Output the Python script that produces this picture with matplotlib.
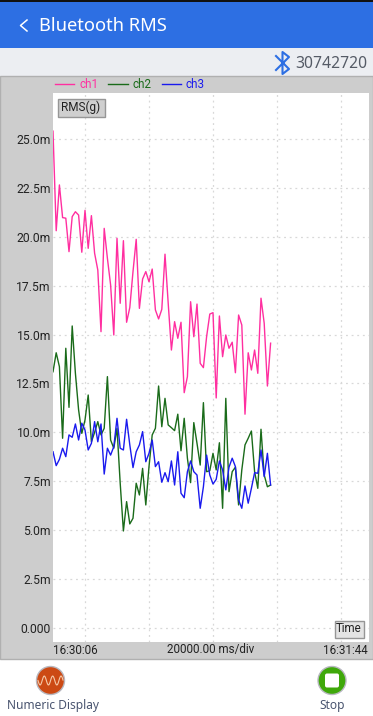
import numpy as np
import matplotlib
matplotlib.use('Agg')
import matplotlib.pyplot as plt
from matplotlib.patches import Rectangle, Circle, FancyBboxPatch

# rms values in milli g, one sample per second
ch1 = [25.40, 20.31, 22.65, 20.98, 20.95, 19.24, 21.03, 21.28, 21.11, 19.21,
       21.35, 19.41, 21.08, 19.16, 18.30, 15.15, 20.43, 18.90, 17.54, 14.98,
       19.92, 16.60, 19.80, 15.63, 16.38, 18.22, 19.87, 16.34, 17.84, 18.22,
       17.70, 18.35, 16.26, 15.80, 16.29, 19.11, 16.60, 14.21, 15.66, 14.81,
       15.63, 12.03, 12.85, 16.68, 14.89, 16.56, 13.53, 13.31, 14.89, 16.05,
       16.12, 11.76, 15.95, 13.87, 14.98, 14.30, 14.61, 13.05, 16.00, 15.49,
       10.93, 14.07, 13.19, 14.21, 13.02, 16.86, 15.58, 12.37, 14.56]
ch2 = [13.10, 14.07, 13.36, 9.70, 14.30, 11.28, 15.44, 13.02, 11.15, 9.95,
       10.63, 11.91, 9.52, 10.00, 10.55, 9.87, 10.21, 12.85, 9.61, 9.19,
       10.21, 7.40, 4.96, 6.46, 5.32, 5.61, 7.40, 6.80, 8.16, 6.29,
       8.25, 9.87, 10.21, 12.37, 10.29, 11.74, 10.38, 10.24, 10.09, 10.93,
       9.06, 10.72, 8.68, 7.43, 10.50, 9.44, 8.33, 11.52, 7.99, 8.04,
       8.93, 8.08, 9.47, 6.12, 11.74, 6.97, 7.99, 8.22, 6.29, 8.08,
       9.36, 9.70, 10.07, 7.99, 7.14, 10.16, 7.82, 7.22, 7.31]
ch3 = [9.01, 8.30, 8.62, 9.19, 8.76, 9.87, 9.75, 10.43, 9.61, 10.47,
       10.12, 9.10, 9.44, 10.55, 9.52, 10.43, 7.87, 9.19, 8.84, 9.27,
       10.72, 9.19, 9.10, 10.67, 9.36, 8.20, 9.01, 9.36, 10.04, 8.50,
       8.93, 9.61, 8.25, 8.50, 7.45, 7.94, 7.48, 8.54, 7.31, 9.01,
       6.89, 6.66, 7.99, 8.54, 7.99, 7.82, 6.12, 7.22, 8.84, 7.82,
       7.36, 7.60, 8.54, 8.08, 7.06, 8.22, 8.68, 8.25, 6.54, 6.12,
       7.26, 6.38, 7.14, 7.94, 7.91, 9.10, 7.74, 8.93, 7.31]
channels = ['ch1', 'ch2', 'ch3']
colors = ['#ff2fa0', '#1a6b1a', '#1a1aee']
yticks = [0, 2.5, 5, 7.5, 10, 12.5, 15, 17.5, 20, 22.5, 25]
ylabels = ['0.000', '2.5m', '5.0m', '7.5m', '10.0m', '12.5m', '15.0m', '17.5m', '20.0m', '22.5m', '25.0m']
xgrid = [10, 30, 50, 70, 90]

W, H = 373, 716
plt.rcParams['font.family'] = 'Roboto'
fig = plt.figure(figsize=(W / 100, H / 100), dpi=100, facecolor='white')

# screen chrome, drawn in pixel coordinates
ui = fig.add_axes([0, 0, 1, 1], zorder=0)
ui.set_xlim(0, W)
ui.set_ylim(H, 0)
ui.axis('off')
ui.add_patch(Rectangle((0, 0), W, 48, fc='#2d6fe3', ec='none'))
ui.add_patch(Rectangle((0, 0), W, 2, fc='#111111', ec='none'))
ui.add_patch(Rectangle((0, 48), W, 28, fc='#eceef2', ec='none'))
ui.add_patch(Rectangle((0, 76), W, 583, fc='#cdcdcd', ec='#b0b0b0', lw=1))
ui.plot([27, 20.5, 27], [20, 25.5, 31], c='white', lw=1.1)
ui.text(39, 26, 'Bluetooth RMS', color='white', fontsize=13.2, family='Noto Sans', va='center', ha='left')
ui.plot([276, 289, 282.5, 282.5, 289, 276], [56, 69, 74, 52, 57, 70], c='#2d6fe3', lw=1.5)
ui.text(295, 64, '30742720', color='#555b66', fontsize=11.3, family='Noto Sans', va='center', ha='left')
ui.text(53, 650, '16:30:06', color='#222222', fontsize=8.4, va='center', ha='left')
ui.text(211, 650, '20000.00 ms/div', color='#222222', fontsize=8.4, va='center', ha='center')
ui.text(368, 650, '16:31:44', color='#222222', fontsize=8.4, va='center', ha='right')

# bottom buttons
ui.add_patch(Circle((50.5, 680.5), 14, fc='#cc4a14', ec='#b8b8c0', lw=1))
wave_x = np.linspace(38, 63, 60)
ui.plot(wave_x, 680.5 + 4.5 * np.sin((wave_x - 38) * 0.75), c='#f5c9a8', lw=0.8)
ui.text(53, 705, 'Numeric Display', color='#4a5570', fontsize=8.6, family='Noto Sans', va='center', ha='center')
ui.add_patch(Circle((332, 680.5), 14, fc='#3fa80a', ec='#b8b8c0', lw=1))
ui.add_patch(FancyBboxPatch((325, 673.5), 14, 14, boxstyle='round,pad=0,rounding_size=2', fc='white', ec='none'))
ui.text(332, 705, 'Stop', color='#4a5570', fontsize=8.6, family='Noto Sans', va='center', ha='center')

# plot area
ax = fig.add_axes([53 / W, 1 - 642 / H, 316 / W, 549 / H], zorder=1)
ax.set_facecolor('white')
t = np.arange(len(ch1))
for vals, name, col in zip([ch1, ch2, ch3], channels, colors):
    ax.plot(t, vals, color=col, lw=1.0, label=name)
ax.set_xlim(0, 98.75)
ax.set_ylim(-0.716, 27.35)
ax.set_xticks(xgrid)
ax.set_xticklabels([])
ax.set_yticks(yticks)
ax.set_yticklabels(ylabels, fontsize=8.7, color='#222222')
ax.tick_params(length=0, pad=1.5)
ax.grid(True, ls=(0, (1.5, 3)), color='#d8d8d8', lw=0.9)
ax.set_axisbelow(True)
for s in ax.spines.values():
    s.set_visible(False)

leg = ax.legend(loc='lower left', bbox_to_anchor=(0, 1), ncol=3, frameon=False, fontsize=8.4,
                labelcolor='linecolor', handlelength=1.65, handletextpad=0.43, columnspacing=0.87,
                borderpad=0, borderaxespad=0.15)
for h in leg.get_lines():
    h.set_linewidth(1.0)

# RMS(g) and Time buttons sit on top of the plot
top = fig.add_axes([0, 0, 1, 1], zorder=2)
top.set_xlim(0, W)
top.set_ylim(H, 0)
top.axis('off')
top.patch.set_alpha(0)
top.add_patch(Rectangle((57.5, 98.5), 47, 18, fc='#cfcfcf', ec='#969696', lw=1))
top.text(81, 107.5, 'RMS(g)', color='#222222', fontsize=8.5, va='center', ha='center')
top.add_patch(Rectangle((334.5, 620.5), 29, 17, fc='#e4e4e4', ec='#969696', lw=1))
top.text(349, 629, 'Time', color='#222222', fontsize=8.3, va='center', ha='center')

fig.savefig('out.png', dpi=100)
